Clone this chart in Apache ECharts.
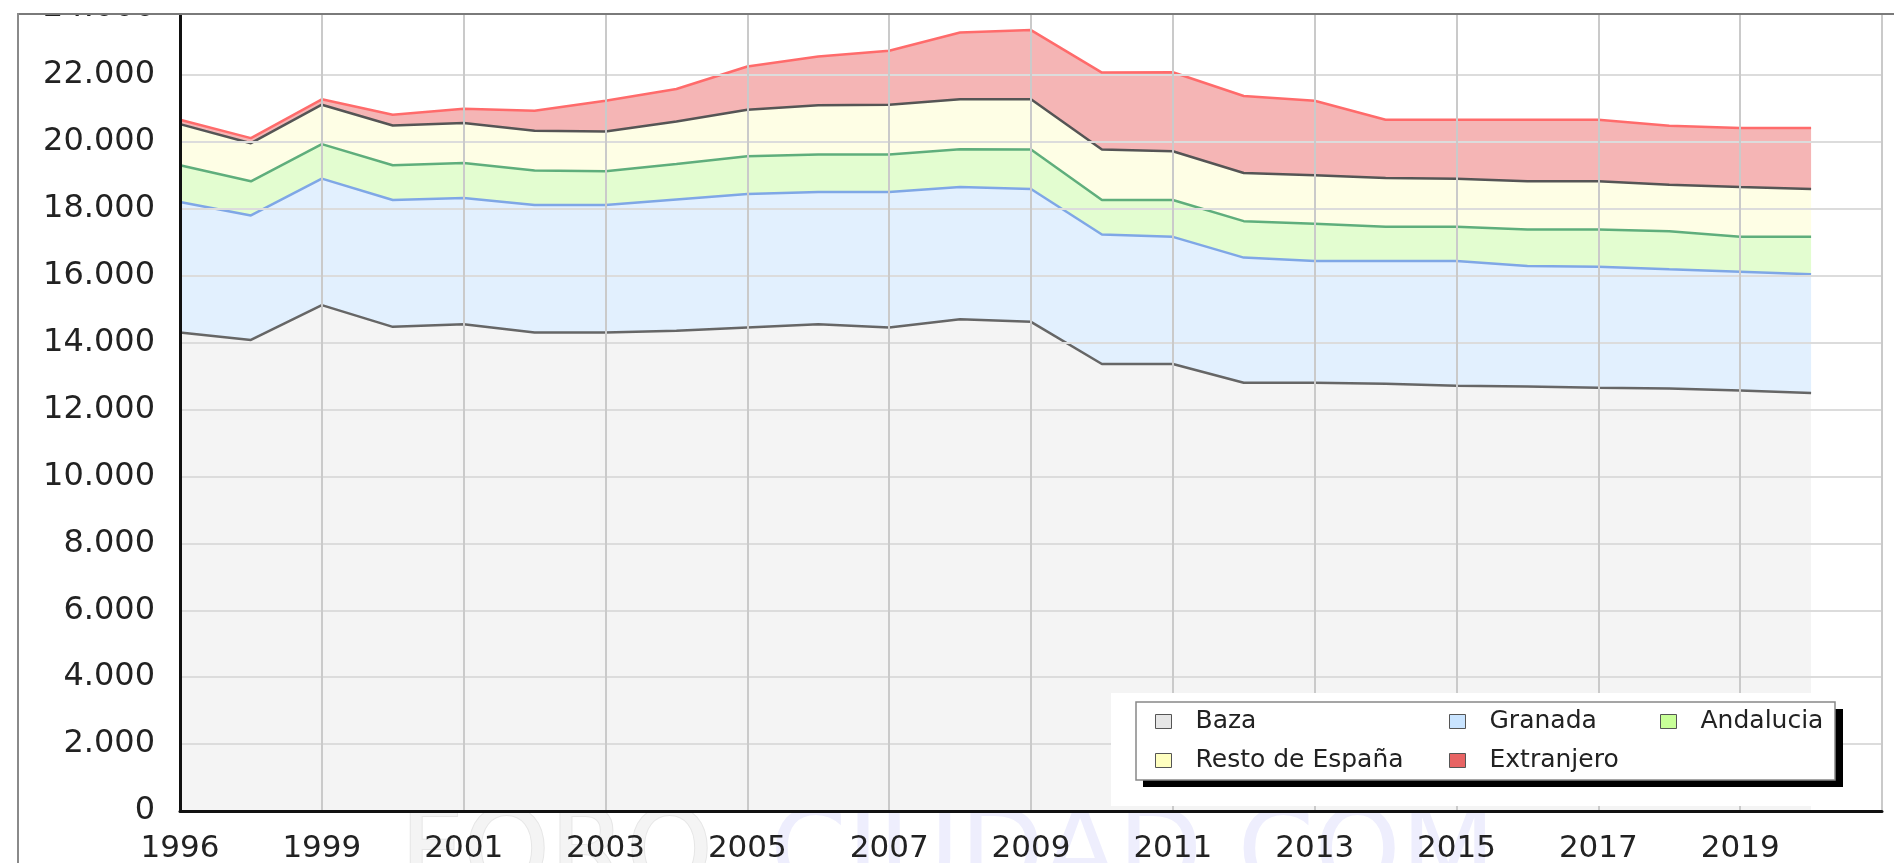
<!DOCTYPE html>
<html>
<head>
<meta charset="utf-8">
<title>Baza - población por lugar de nacimiento</title>
<script src="https://cdn.jsdelivr.net/npm/echarts@6.0.0/dist/echarts.min.js"></script>
<style>
  html, body { margin: 0; padding: 0; background: #fff; }
  #chart { width: 1894px; height: 863px; }
</style>
</head>
<body>
<div id="chart"></div>
<script>
// padrón: no hay dato de 1997
var years = ['1996', '1998', '1999', '2000', '2001', '2002', '2003', '2004', '2005', '2006', '2007', '2008',
             '2009', '2010', '2011', '2012', '2013', '2014', '2015', '2016', '2017', '2018', '2019', '2020'];
var baza = [14300, 14080, 15120, 14470, 14550, 14300, 14300, 14350, 14450, 14550, 14450, 14700,
            14620, 13360, 13360, 12800, 12800, 12770, 12710, 12690, 12650, 12630, 12570, 12490];
var granada = [3900, 3720, 3780, 3790, 3770, 3810, 3810, 3930, 3990, 3950, 4050, 3950,
               3970, 3870, 3800, 3740, 3640, 3670, 3730, 3600, 3620, 3560, 3550, 3550];
var andalucia = [1100, 1020, 1030, 1040, 1050, 1030, 1010, 1060, 1130, 1120, 1120, 1130,
                 1180, 1030, 1100, 1090, 1110, 1020, 1020, 1090, 1110, 1140, 1040, 1120];
var restoEspana = [1230, 1140, 1180, 1190, 1190, 1190, 1190, 1270, 1390, 1470, 1490, 1490,
                   1500, 1510, 1460, 1440, 1450, 1460, 1440, 1440, 1440, 1390, 1490, 1430];
var extranjero = [130, 150, 160, 320, 430, 600, 920, 970, 1290, 1460, 1610, 2000,
                  2070, 2300, 2360, 2300, 2230, 1740, 1760, 1840, 1840, 1760, 1760, 1820];

var FONT = 'DejaVu Sans';
// el eje llega una posición más allá del último año
var xCategories = years.concat(['']);

function serie(name, values, line, fill) {
  return {
    name: name,
    type: 'line',
    stack: 'total',
    symbol: 'none',
    silent: true,
    lineStyle: { color: line, width: 2.5 },
    areaStyle: { color: fill, opacity: 1 },
    itemStyle: { color: fill },
    data: values
  };
}

function legendItem(name, color) {
  return { name: name, itemStyle: { color: color, borderColor: '#555', borderWidth: 1 } };
}

function legendBox(left, items) {
  return {
    data: items,
    orient: 'vertical',
    left: left,
    top: 709,
    padding: 0,
    itemGap: 14,
    itemWidth: 16,
    itemHeight: 14,
    icon: 'rect',
    selectedMode: false,
    z: 60,
    textStyle: { fontFamily: FONT, fontSize: 25, lineHeight: 25, color: '#222', padding: [0, 0, 0, 19] }
  };
}

function everyOther(index) {
  return index % 2 === 0;
}

var myChart = echarts.init(document.getElementById('chart'));
myChart.setOption({
  animation: false,
  grid: {
    left: 180, right: 12, top: 8, bottom: 52,
    outerBoundsMode: 'none',
    containLabel: false,
    show: true,
    z: 10,
    backgroundColor: 'transparent',
    borderColor: '#333',
    borderWidth: 2
  },
  xAxis: {
    type: 'category',
    data: xCategories,
    boundaryGap: false,
    z: 10,
    axisLine: { show: true, lineStyle: { color: '#111', width: 3 } },
    axisTick: { show: false },
    splitLine: { show: true, interval: everyOther, lineStyle: { color: '#cacaca', width: 2 } },
    axisLabel: {
      margin: 22,
      interval: everyOther,
      fontFamily: FONT,
      fontSize: 31,
      color: '#222'
    }
  },
  yAxis: {
    type: 'value',
    min: 0,
    max: 24000,
    interval: 2000,
    z: 10,
    axisLine: { show: true, lineStyle: { color: '#111', width: 3 } },
    axisTick: { show: false },
    splitLine: { show: true, lineStyle: { color: '#dcdcdc', width: 2 } },
    axisLabel: {
      margin: 25,
      fontFamily: FONT,
      fontSize: 32,
      color: '#222',
      formatter: function (v) { return v === 0 ? '0' : (v / 1000) + '.000'; }
    }
  },
  legend: [
    legendBox(1155, [legendItem('Baza', '#e6e6e6'), legendItem('Resto de España', '#ffffc0')]),
    legendBox(1449, [legendItem('Granada', '#c9e4ff'), legendItem('Extranjero', '#e86464')]),
    legendBox(1660, [legendItem('Andalucia', '#c8ff98')])
  ],
  graphic: [
    // marca de agua
    { type: 'text', z: 1, silent: true,
      style: { text: 'FORO', x: 400, y: 859, font: '110px DejaVu Sans', fill: '#f4f4f4', stroke: '#e6e6e6', lineWidth: 2, verticalAlign: 'middle' } },
    { type: 'text', z: 1, silent: true,
      style: { text: 'CIUDAD.COM', x: 770, y: 859, font: '110px DejaVu Sans', fill: '#eeeefd', verticalAlign: 'middle' } },
    // fondo y caja de la leyenda
    { type: 'rect', z: 50, silent: true, shape: { x: 1111, y: 693, width: 704, height: 113 }, style: { fill: '#fff' } },
    { type: 'rect', z: 51, silent: true, shape: { x: 1143, y: 709, width: 700, height: 78 }, style: { fill: '#000' } },
    { type: 'rect', z: 52, silent: true, shape: { x: 1136, y: 702, width: 699, height: 78 }, style: { fill: '#fff', stroke: '#888', lineWidth: 1.5 } },
    // recorte superior y marco exterior
    { type: 'rect', z: 100, silent: true, shape: { x: 0, y: 0, width: 1894, height: 13 }, style: { fill: '#fff' } },
    { type: 'line', z: 101, silent: true, shape: { x1: 17, y1: 14, x2: 1894, y2: 14 }, style: { stroke: '#7a7a7a', lineWidth: 2 } },
    { type: 'line', z: 101, silent: true, shape: { x1: 18, y1: 13, x2: 18, y2: 863 }, style: { stroke: '#8a8a8a', lineWidth: 2 } }
  ],
  series: [
    serie('Baza', baza, '#666666', '#f4f4f4'),
    serie('Granada', granada, '#7fa7e6', '#e2f0fe'),
    serie('Andalucia', andalucia, '#5fae7c', '#e3fdd0'),
    serie('Resto de España', restoEspana, '#555555', '#fefee5'),
    serie('Extranjero', extranjero, '#ff6b6b', '#f5b5b5')
  ]
});
window.addEventListener('resize', function () {
  myChart.resize();
});
</script>
</body>
</html>
